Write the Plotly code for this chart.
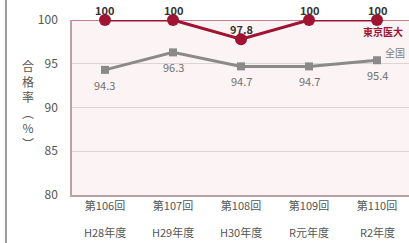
import plotly.graph_objects as go

exam_rounds = ["第106回", "第107回", "第108回", "第109回", "第110回"]
fiscal_years = ["H28年度", "H29年度", "H30年度", "R元年度", "R2年度"]
tmu_rate = [100, 100, 97.8, 100, 100]
national_rate = [94.3, 96.3, 94.7, 94.7, 95.4]
y_ticks = [80, 85, 90, 95, 100]

RED = "#9e1432"
GRAY = "#8a8a8a"
FONT = "Noto Sans CJK JP"
xs = list(range(len(exam_rounds)))

fig = go.Figure()
fig.add_trace(go.Scatter(
    x=xs, y=national_rate, mode="lines+markers",
    line=dict(color=GRAY, width=3),
    marker=dict(symbol="square", size=8, color=GRAY),
    cliponaxis=False, showlegend=False, hoverinfo="skip"))
fig.add_trace(go.Scatter(
    x=xs, y=tmu_rate, mode="lines+markers",
    line=dict(color=RED, width=3),
    marker=dict(symbol="circle", size=12, color=RED),
    cliponaxis=False, showlegend=False, hoverinfo="skip"))

# data labels
for x, v in zip(xs, tmu_rate):
    fig.add_annotation(x=x, y=v, text=f"<b>{v:g}</b>", showarrow=False,
                       yanchor="middle", yshift=10,
                       font=dict(family=FONT, size=11, color="#333333"))
for x, v in zip(xs, national_rate):
    fig.add_annotation(x=x, y=v, text=f"{v:.1f}", showarrow=False,
                       yanchor="middle", yshift=-15,
                       font=dict(family=FONT, size=11, color="#707070"))

# series name labels at the end of lines
fig.add_annotation(x=xs[-1], y=tmu_rate[-1], text="<b>東京医大</b>", showarrow=False,
                   xanchor="center", yanchor="middle", xshift=6, yshift=-11,
                   font=dict(family=FONT, size=10, color=RED))
fig.add_annotation(x=xs[-1], y=national_rate[-1], text="全国", showarrow=False,
                   xanchor="center", yanchor="middle", xshift=18, yshift=8,
                   font=dict(family=FONT, size=10, color="#808080"))

# second line of x tick labels
for x, fy in zip(xs, fiscal_years):
    fig.add_annotation(x=x, y=0, xref="x", yref="paper", text=fy, showarrow=False,
                       yanchor="middle", yshift=-37,
                       font=dict(family=FONT, size=11, color="#555555"))

# vertical y-axis title
fig.add_annotation(x=-0.13, y=0.52, xref="paper", yref="paper",
                   text="合<br>格<br>率<br>︵<br>%<br>︶", showarrow=False,
                   xanchor="center", yanchor="middle",
                   font=dict(family=FONT, size=12, color="#555555"))

# left frame line of the image
fig.add_shape(type="line", xref="paper", yref="paper", x0=-0.196, x1=-0.196, y0=-0.3, y1=1.3,
              line=dict(color="#9a9a9a", width=2))

fig.update_layout(
    width=409, height=243,
    margin=dict(l=72, r=0, t=20, b=48),
    paper_bgcolor="white", plot_bgcolor="#fcf3f4",
    font=dict(family=FONT),
    hovermode=False,
    xaxis=dict(range=[-0.485, 4.47], tickvals=xs, ticktext=exam_rounds,
               showgrid=False, zeroline=False, showline=True, linecolor="#b8a2a8",
               linewidth=1.5, mirror=False, ticks="",
               tickfont=dict(family=FONT, size=11, color="#555555")),
    yaxis=dict(range=[80, 100], tickvals=y_ticks, showgrid=True, gridcolor="#dcd5d7",
               gridwidth=1, zeroline=False, showline=True, linecolor="#b8a2a8",
               linewidth=1.5, ticks="", ticklabelstandoff=10,
               tickfont=dict(family=FONT, size=12, color="#555555")),
)
fig.add_shape(type="line", xref="paper", yref="y", x0=0, x1=1, y0=100, y1=100,
              line=dict(color="#b0586c", width=1.5), layer="below")

fig.write_html("out.html", config={"displayModeBar": False},
               post_script="document.body.style.margin='0';document.body.style.overflow='hidden';")
